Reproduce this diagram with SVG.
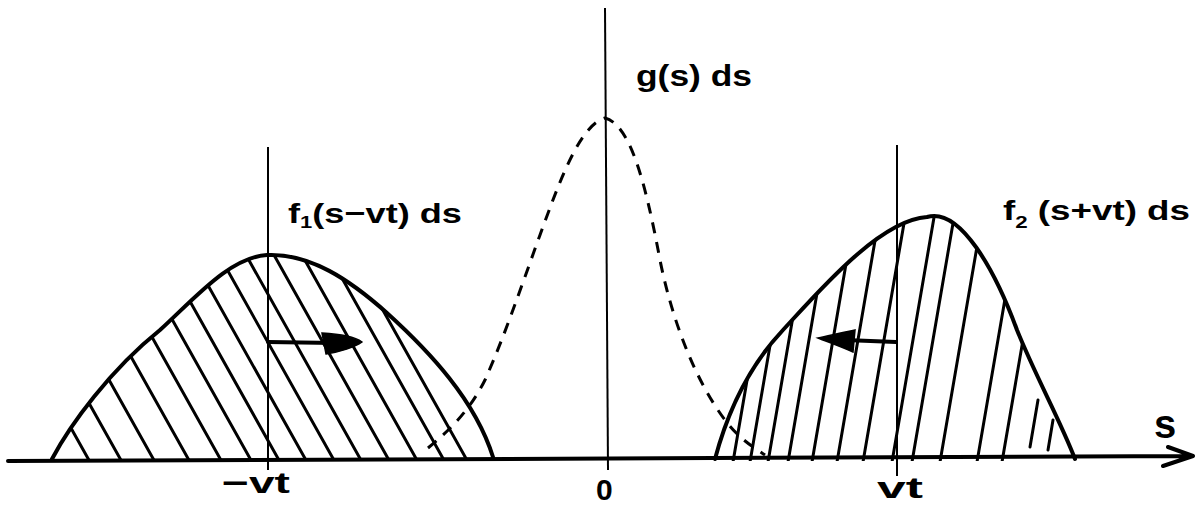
<svg xmlns="http://www.w3.org/2000/svg" width="1204" height="509" viewBox="0 0 1204 509">
<style>
.bg{fill:#fff}
.axis{stroke:#000;stroke-width:4;fill:none;stroke-linecap:round;stroke-linejoin:round}
.vline{stroke:#000;stroke-width:2;fill:none}
.hump{stroke:#000;stroke-width:4;fill:none;stroke-linecap:round}
.hatch{stroke:#000;stroke-width:3;stroke-linecap:round}
.gauss{stroke:#000;stroke-width:3;fill:none;stroke-dasharray:11 9}
.lbl{font-family:"Liberation Sans",Arial,sans-serif;font-weight:bold;fill:#000}
.arr{stroke:#000;stroke-width:4;fill:none;stroke-linecap:round}
.head{fill:#000;stroke:#000;stroke-width:1.5}
</style>
<defs>
<clipPath id="clipL"><path d="M52,461 C70,425 110,370 160,330 C195,298 230,257 267,255 C310,253 350,280 387,313 C430,352 475,400 493,461 Z"/></clipPath>
<clipPath id="clipR"><path d="M715,461 C728,410 750,365 783,330 C820,290 880,220 927,217 C960,207 995,270 1017,330 C1035,375 1060,420 1075,461 Z"/></clipPath>
</defs>
<rect class="bg" x="0" y="0" width="1204" height="509"/>

<g id="connectors">
<path id="axis" class="axis" d="M8,461 L1193,456 M1168,447 L1193,456 L1163,466"/>
<line class="vline" x1="268" y1="147" x2="268" y2="470"/>
<line class="vline" x1="605" y1="8" x2="608" y2="470"/>
<line class="vline" x1="897" y1="145" x2="897" y2="476"/>
<path class="gauss" d="M428,448 C450,430 470,410 485,380 C505,335 520,290 540,235 C560,180 580,125 605,118 C630,125 645,180 660,260 C672,320 695,380 725,420 C740,440 755,448 765,455"/>
</g>

<g id="hump-left">
<g clip-path="url(#clipL)">
<line class="hatch" x1="90" y1="462" x2="-40" y2="230"/>
<line class="hatch" x1="122" y1="462" x2="-8" y2="230"/>
<line class="hatch" x1="155" y1="462" x2="25" y2="230"/>
<line class="hatch" x1="190" y1="462" x2="60" y2="230"/>
<line class="hatch" x1="222" y1="462" x2="92" y2="230"/>
<line class="hatch" x1="252" y1="462" x2="122" y2="230"/>
<line class="hatch" x1="280" y1="462" x2="150" y2="230"/>
<line class="hatch" x1="307" y1="462" x2="177" y2="230"/>
<line class="hatch" x1="335" y1="462" x2="205" y2="230"/>
<line class="hatch" x1="362" y1="462" x2="232" y2="230"/>
<line class="hatch" x1="390" y1="462" x2="260" y2="230"/>
<line class="hatch" x1="418" y1="462" x2="288" y2="230"/>
<line class="hatch" x1="445" y1="462" x2="315" y2="230"/>
<line class="hatch" x1="468" y1="462" x2="338" y2="230"/>
</g>
<path class="hump" d="M52,459 C70,425 110,370 160,330 C195,298 230,257 267,255 C310,253 350,280 387,313 C430,352 475,400 493,457"/>
<line class="arr" x1="268" y1="342" x2="335" y2="343"/>
<path class="head" d="M322,333 C340,334 355,337 362,342 C355,347 340,352 326,354 Z"/>
<text class="lbl" x="288" y="223" font-size="28" textLength="174" lengthAdjust="spacingAndGlyphs">f<tspan font-size="17" dy="5">1</tspan><tspan dy="-5">(s−vt) ds</tspan></text>
<text class="lbl" x="222" y="493" font-size="30" textLength="68" lengthAdjust="spacingAndGlyphs">−vt</text>
</g>

<g id="hump-right">
<g clip-path="url(#clipR)">
<line class="hatch" x1="733" y1="462" x2="778" y2="200"/>
<line class="hatch" x1="750" y1="462" x2="795" y2="200"/>
<line class="hatch" x1="768" y1="462" x2="813" y2="200"/>
<line class="hatch" x1="788" y1="462" x2="833" y2="200"/>
<line class="hatch" x1="812" y1="462" x2="857" y2="200"/>
<line class="hatch" x1="837" y1="462" x2="882" y2="200"/>
<line class="hatch" x1="863" y1="462" x2="908" y2="200"/>
<line class="hatch" x1="892" y1="462" x2="937" y2="200"/>
<line class="hatch" x1="912" y1="462" x2="957" y2="200"/>
<line class="hatch" x1="940" y1="462" x2="985" y2="200"/>
<line class="hatch" x1="977" y1="462" x2="1022" y2="200"/>
<line class="hatch" x1="1002" y1="462" x2="1047" y2="200"/>
<line class="hatch" x1="1030" y1="447" x2="1038" y2="400"/>
<line class="hatch" x1="1048" y1="450" x2="1053" y2="420"/>
</g>
<path class="hump" d="M715,459 C728,410 750,365 783,330 C820,290 880,220 927,217 C960,207 995,270 1017,330 C1035,375 1060,420 1075,459"/>
<line class="arr" x1="896" y1="342" x2="845" y2="340"/>
<path class="head" d="M855,330 C840,333 828,336 818,338 C828,342 842,347 853,352 Z"/>
<text class="lbl" x="1003" y="220" font-size="28" textLength="187" lengthAdjust="spacingAndGlyphs">f<tspan font-size="17" dy="8">2</tspan><tspan dy="-8"> (s+vt) ds</tspan></text>
<text class="lbl" x="877" y="498" font-size="30" textLength="46" lengthAdjust="spacingAndGlyphs">vt</text>
</g>

<g id="center">
<text class="lbl" x="636" y="86" font-size="30" textLength="116" lengthAdjust="spacingAndGlyphs">g(s) ds</text>
<text class="lbl" x="596" y="500" font-size="30">0</text>
<text class="lbl" x="1154" y="438" font-size="40">s</text>
</g>
</svg>
